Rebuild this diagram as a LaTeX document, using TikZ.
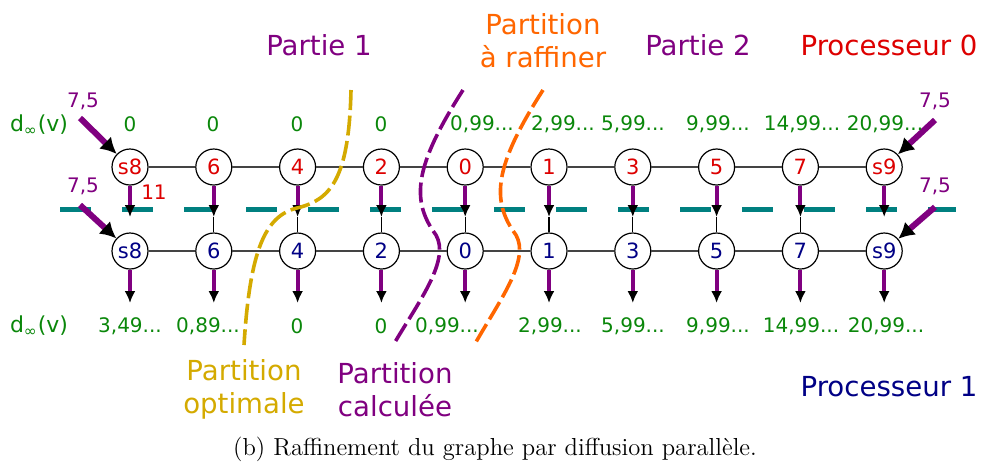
\documentclass[tikz,border=0pt]{standalone}
\usepackage{fontspec}
\newfontfamily\dv{DejaVu Sans}
\usetikzlibrary{arrows.meta}
\definecolor{cgreen}{HTML}{0A870A}
\definecolor{cred}{HTML}{DD0000}
\definecolor{cnavy}{HTML}{000085}
\definecolor{cpurple}{HTML}{800080}
\definecolor{cyel}{HTML}{D4AA00}
\definecolor{corange}{HTML}{FF6600}
\definecolor{cteal}{HTML}{008080}
\definecolor{cedge}{HTML}{444444}
\begin{document}
\begin{tikzpicture}[x=0.5pt,y=-0.5pt,
  vtx/.style={circle,draw,fill=white,line width=0.6pt,minimum size=18pt,inner sep=0pt,font=\dv\fontsize{10.5}{12}\selectfont},
  topv/.style={vtx,text=cred},
  botv/.style={vtx,text=cnavy},
  lab/.style={font=\dv\fontsize{10}{12}\selectfont,text=cgreen,inner sep=0pt},
  dlab/.style={font=\dv\fontsize{11}{13}\selectfont,text=cgreen,inner sep=0pt},
  plab/.style={font=\dv\fontsize{10}{12}\selectfont,text=cpurple,inner sep=0pt},
  big/.style={font=\dv\fontsize{13.8}{16.5}\selectfont,align=center,inner sep=0pt},
  edge/.style={draw=cedge,line width=0.6pt},
  link/.style={draw=black,line width=0.6pt},
  varr/.style={draw=cpurple,line width=2pt,-{Latex[length=6pt,width=5.5pt,color=black]}},
  darr/.style={draw=cpurple,line width=3pt,-{Latex[length=8pt,width=8.5pt,color=black]}},
  part/.style={line width=1.8pt,dash pattern=on 10pt off 2.8pt}
]
\useasboundingbox (0,0) rectangle (984,463);

% separator between processors
\draw[cteal,line width=2.5pt,dash pattern=on 15.5pt off 15.5pt] (60,209) -- (956,209);

% vertices
\foreach \l [count=\k from 0] in {s8,6,4,2,0,1,3,5,7,s9} {
  \node[topv] (t\k) at ({130+83.8*\k},167) {\l};
  \node[botv] (b\k) at ({130+83.8*\k},251) {\l};
  \coordinate (p\k) at ({130+83.8*\k},217);
  \coordinate (q\k) at ({130+83.8*\k},303);
}
\foreach \k [evaluate=\k as \n using int(\k+1)] in {0,...,8} {
  \draw[edge] (t\k) -- (t\n);
  \draw[edge] (b\k) -- (b\n);
}
\foreach \k in {1,...,8} { \draw[link] (p\k) -- (b\k); }
\foreach \k in {0,...,9} {
  \draw[varr] (t\k) -- (p\k);
  \draw[varr] (b\k) -- (q\k);
}

% source arrows
\coordinate (a1) at (80,118);
\coordinate (a2) at (80,205);
\coordinate (a3) at (935,120);
\coordinate (a4) at (935,207);
\draw[darr] (a1) -- (t0);
\draw[darr] (a2) -- (b0);
\draw[darr] (a3) -- (t9);
\draw[darr] (a4) -- (b9);
\node[plab] (w1) at (83,101) {7,5};
\node[plab] (w2) at (83,186) {7,5};
\node[plab] (w3) at (935,101) {7,5};
\node[plab] (w4) at (935,186) {7,5};
\node[font=\dv\fontsize{10}{12}\selectfont,text=cred,inner sep=0pt] (w5) at (154,192) {11};

% distance labels
\node[dlab] (d1) at (39,125) {d\textsubscript{∞}(v)};
\node[dlab] (d2) at (39,326) {d\textsubscript{∞}(v)};
\foreach \x/\t [count=\k] in {130/0,213/0,297/0,381/0,482/{0,99...},563/{2,99...},633/{5,99...},718/{9,99...},802/{14,99...},885/{20,99...}}
  \node[lab] (u\k) at (\x,124) {\t};
\foreach \x/\t [count=\k] in {130/{3,49...},208/{0,89...},297/0,381/0,447/{0,99...},550/{2,99...},633/{5,99...},718/{9,99...},801/{14,99...},886/{20,99...}}
  \node[lab] (v\k) at (\x,326) {\t};

% partitions
\draw[part,cyel] (351,90) .. controls (349,180) and (330,200) .. (297,208) .. controls (265,216) and (250,250) .. (244,345);
\draw[part,cpurple] (463,90) .. controls (415,165) and (410,200) .. (436,235) .. controls (450,260) and (420,300) .. (395,342);
\draw[part,corange] (543,90) .. controls (495,165) and (490,200) .. (516,235) .. controls (530,260) and (500,300) .. (476,342);

% titles
\node[big,text=cpurple] (h1) at (319,45) {Partie 1};
\node[big,text=corange] (h2) at (543,41) {Partition\\à raffiner};
\node[big,text=cpurple] (h3) at (698,45) {Partie 2};
\node[big,text=cred] (h4) at (889,45) {Processeur 0};
\node[big,text=cyel] (h5) at (244,389) {Partition\\optimale};
\node[big,text=cpurple] (h6) at (395,390) {Partition\\calculée};
\node[big,text=cnavy] (h7) at (889,387) {Processeur 1};

% caption
\node[font=\fontsize{12.3}{14}\selectfont,inner sep=0pt] (cap) at (495,449) {(b) Raffinement du graphe par diffusion parallèle.};
\end{tikzpicture}
\end{document}
